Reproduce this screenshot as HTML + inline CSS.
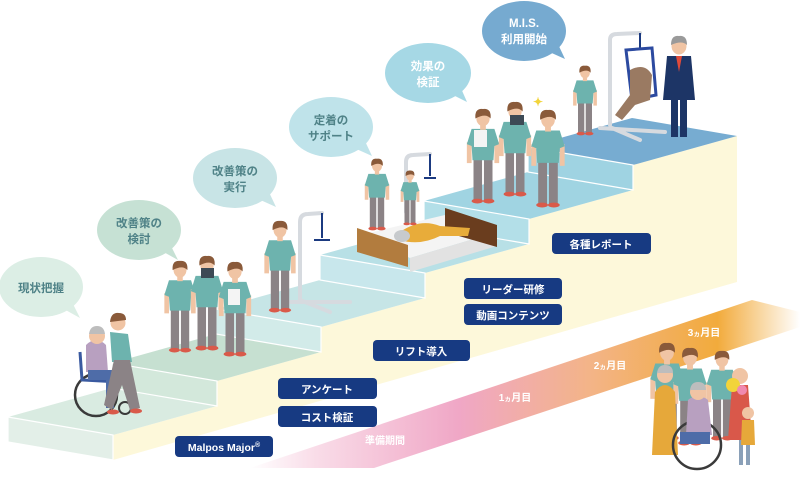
<!DOCTYPE html>
<html><head><meta charset="utf-8">
<style>
html,body{margin:0;padding:0;background:#fff;}
body{width:801px;height:478px;overflow:hidden;}
svg{display:block;}
text{font-family:"Liberation Sans","Noto Sans CJK JP",sans-serif;font-weight:bold;}
</style></head><body>
<svg width="801" height="478" viewBox="0 0 801 478" xmlns="http://www.w3.org/2000/svg">
<defs>
<linearGradient id="band" gradientUnits="userSpaceOnUse" x1="250" y1="0" x2="800" y2="0">
<stop offset="0" stop-color="#ffffff"/>
<stop offset="0.12" stop-color="#f9dce8"/>
<stop offset="0.38" stop-color="#f0a7c6"/>
<stop offset="0.62" stop-color="#f3b487"/>
<stop offset="0.85" stop-color="#f2ab3c"/>
<stop offset="1" stop-color="#ffffff"/>
</linearGradient>
<g id="p">
 <rect x="-10" y="-48" width="9" height="45" fill="#8b8386"/>
 <rect x="1" y="-48" width="9" height="45" fill="#8b8386"/>
 <ellipse cx="-6" cy="-2" rx="6" ry="2.5" fill="#d95a4a"/>
 <ellipse cx="6" cy="-2" rx="6" ry="2.5" fill="#d95a4a"/>
 <rect x="-17" y="-64" width="5" height="22" fill="#f0c4a4"/>
 <rect x="12" y="-64" width="5" height="22" fill="#f0c4a4"/>
 <path d="M-12,-78 L12,-78 L17,-62 L12,-60 L11,-45 L-11,-45 L-12,-60 L-17,-62Z" fill="#6db3ae"/>
 <rect x="-3" y="-83" width="6" height="6" fill="#f0c4a4"/>
 <ellipse cx="0" cy="-89" rx="7" ry="8" fill="#f0c4a4"/>
 <path d="M-8,-89 Q-9,-100 0,-99 Q9,-100 8,-89 Q3,-95 -8,-89Z" fill="#8a5a3a"/>
</g>
</defs>

<polygon points="250,468 752,300 800,312 800,327 374,468" fill="url(#band)"/>

<polygon points="113,460 113,435 217,406 217,381 321,352 321,327 425,298 425,273 529,244 529,219 633,190 633,165 737,136 737,282" fill="#fdf8da"/>

<polygon points="8,417 113,435 217,406 112,388" fill="#d9ebe1"/>
<polygon points="112,363 217,381 321,352 216,334" fill="#c6e0d1"/>
<polygon points="216,309 321,327 425,298 320,280" fill="#c6e5e6"/>
<polygon points="320,255 425,273 529,244 424,226" fill="#b8e0e6"/>
<polygon points="424,201 529,219 633,190 528,172" fill="#a0d4e2"/>
<polygon points="528,147 633,165 737,136 632,118" fill="#77acd1"/>
<g stroke="#ffffff" stroke-width="1.2">
<polygon points="8,417 113,435 113,460 8,442" fill="#e3efe8"/>
<polygon points="112,363 217,381 217,406 112,388" fill="#d3e8db"/>
<polygon points="216,309 321,327 321,352 216,334" fill="#d2ebe9"/>
<polygon points="320,255 425,273 425,298 320,280" fill="#c8e7ec"/>
<polygon points="424,201 529,219 529,244 424,226" fill="#b3dfe8"/>
<polygon points="528,147 633,165 633,190 528,172" fill="#9fd3e2"/>
</g>

<g>
<path d="M62,308 L80,318 L72,302Z" fill="#dceee5"/><ellipse cx="41" cy="287" rx="42" ry="30" fill="#dceee5"/>
<path d="M160,250 L178,260 L170,244Z" fill="#c6e1d4"/><ellipse cx="139" cy="230" rx="42" ry="30" fill="#c6e1d4"/>
<path d="M256,198 L276,207 L268,190Z" fill="#c8e4e6"/><ellipse cx="235" cy="178" rx="42" ry="30" fill="#c8e4e6"/>
<path d="M352,147 L372,156 L364,139Z" fill="#bfe3ea"/><ellipse cx="331" cy="127" rx="42" ry="30" fill="#bfe3ea"/>
<path d="M449,93 L467,102 L460,86Z" fill="#a6d8e5"/><ellipse cx="428" cy="73" rx="43" ry="30" fill="#a6d8e5"/>
<path d="M545,50 L565,59 L557,42Z" fill="#76aad0"/><ellipse cx="524" cy="31" rx="42" ry="30" fill="#76aad0"/>
</g>
<g font-size="11.5" fill="#4f8287" text-anchor="middle">
<text x="41" y="292">現状把握</text>
<text x="139" y="227">改善策の</text><text x="139" y="243">検討</text>
<text x="235" y="175">改善策の</text><text x="235" y="191">実行</text>
<text x="331" y="124">定着の</text><text x="331" y="140">サポート</text>
<text x="428" y="70" fill="#fff">効果の</text><text x="428" y="86" fill="#fff">検証</text>
<text x="524" y="27" fill="#fff">M.I.S.</text><text x="524" y="43" fill="#fff">利用開始</text>
</g>

<g fill="none" stroke="#d6dadf" stroke-width="4" stroke-linecap="round">
<path d="M300,300 L300,222 Q300,214 308,214 L322,213"/>
<path d="M290,302 L350,302 M300,300 L330,312"/>
<path d="M406,212 L406,162 Q406,155 413,155 L430,154"/>
<path d="M610,125 L610,40 Q610,34 617,34 L640,33"/>
<path d="M600,128 L665,132 M612,128 L640,140"/>
</g>
<g stroke="#1b3a80" stroke-width="2" fill="none">
<path d="M322,213 L322,238 M314,240 L330,240"/>
<path d="M430,154 L430,176 M424,178 L436,178"/>
<path d="M640,33 L640,50"/>
</g>
<path d="M626,50 L652,48 L656,95 L632,100Z" fill="none" stroke="#2c4aa0" stroke-width="3"/>
<path d="M630,70 Q645,62 652,75 L650,100 L635,105 L622,120 L615,115 L630,95Z" fill="#9a7a62"/>

<polygon points="360,235 445,215 497,232 410,258" fill="#f4f4f4"/>
<polygon points="410,258 497,232 497,246 410,272" fill="#e2e2e2"/>
<polygon points="357,228 408,245 408,267 357,252" fill="#b27c3e"/>
<polygon points="445,208 497,225 497,247 445,232" fill="#6a3d1e"/>
<path d="M400,232 Q420,218 440,226 L470,228 L468,236 L440,236 Q420,246 400,240Z" fill="#e8ac3a"/>
<ellipse cx="402" cy="236" rx="8" ry="6" fill="#c7cacd"/>

<use href="#p" transform="translate(180,352) scale(0.92)"/>
<use href="#p" transform="translate(207,350) scale(0.95)"/>
<use href="#p" transform="translate(235,356) scale(0.95)"/>
<rect x="228" y="289" width="12" height="16" fill="#f4f4f4"/>
<rect x="201" y="268" width="13" height="10" fill="#3d4a55"/>
<use href="#p" transform="translate(280,312) scale(0.92)"/>
<use href="#p" transform="translate(377,230) scale(0.72)"/>
<use href="#p" transform="translate(410,225) scale(0.55)"/>
<use href="#p" transform="translate(483,203) scale(0.95)"/>
<use href="#p" transform="translate(515,196) scale(0.95)"/>
<use href="#p" transform="translate(548,207) scale(0.98)"/>
<rect x="474" y="130" width="13" height="17" fill="#f4f4f4"/>
<rect x="510" y="115" width="14" height="10" fill="#3d4a55"/>
<text x="533" y="106" font-size="12" fill="#f2d43a">✦</text>
<use href="#p" transform="translate(585,135) scale(0.7)"/>

<rect x="671" y="85" width="7" height="52" fill="#1d3566"/>
<rect x="680" y="85" width="7" height="52" fill="#1d3566"/>
<path d="M667,56 L691,56 L695,100 L663,100Z" fill="#1d3566"/>
<path d="M676,56 L679,72 L682,56Z" fill="#e04a3a"/>
<ellipse cx="679" cy="46" rx="7.5" ry="8.5" fill="#f0c4a4"/>
<path d="M671,45 Q671,35 679,36 Q687,35 687,45 Q682,40 671,45Z" fill="#9a9a9a"/>

<circle cx="96" cy="395" r="21" fill="none" stroke="#3a3a3a" stroke-width="2.5"/>
<circle cx="125" cy="408" r="6" fill="none" stroke="#3a3a3a" stroke-width="2"/>
<path d="M80,352 L82,380 L120,382" fill="none" stroke="#3a5aa0" stroke-width="3"/>
<path d="M86,345 Q96,335 106,345 L108,372 L86,372Z" fill="#b8a0c0"/>
<rect x="88" y="370" width="26" height="10" fill="#4e6ca8"/>
<rect x="106" y="378" width="8" height="30" fill="#4e6ca8"/>
<circle cx="97" cy="336" r="8" fill="#f0c4a4"/>
<path d="M89,334 Q90,326 97,326 Q104,326 105,334Z" fill="#bdbdbd"/>
<path d="M110,332 L128,334 L132,362 L112,362Z" fill="#6db3ae"/>
<path d="M114,360 L130,360 L140,408 L130,410 L122,385 L112,410 L104,405Z" fill="#8b8386"/>
<circle cx="118" cy="323" r="7.5" fill="#f0c4a4"/>
<path d="M110,322 Q111,312 119,313 Q126,313 126,320Z" fill="#8a5a3a"/>
<ellipse cx="113" cy="412" rx="6" ry="2.5" fill="#d95a4a"/>
<ellipse cx="136" cy="411" rx="6" ry="2.5" fill="#d95a4a"/>

<use href="#p" transform="translate(667,440) scale(0.98)"/>
<use href="#p" transform="translate(690,445) scale(0.98)"/>
<use href="#p" transform="translate(722,440) scale(0.9)"/>
<path d="M655,392 Q665,378 675,392 L678,455 L652,455Z" fill="#e6a83a"/>
<circle cx="665" cy="375" r="8" fill="#f0c4a4"/>
<path d="M657,373 Q658,365 665,365 Q673,365 673,373Z" fill="#bdbdbd"/>
<circle cx="697" cy="445" r="24" fill="none" stroke="#3a3a3a" stroke-width="2.5"/>
<path d="M688,400 Q698,392 708,400 L712,435 L686,435Z" fill="#b8a0c0"/>
<rect x="680" y="432" width="30" height="12" fill="#4e6ca8"/>
<circle cx="698" cy="392" r="8" fill="#f0c4a4"/>
<path d="M690,390 Q691,382 698,382 Q706,382 706,390Z" fill="#bdbdbd"/>
<path d="M732,385 L748,385 L752,440 L728,440Z" fill="#d9584a"/>
<circle cx="740" cy="376" r="8" fill="#f0c4a4"/>
<circle cx="733" cy="385" r="7" fill="#f2d43a"/>
<circle cx="742" cy="390" r="5" fill="#f08ab0"/>
<path d="M741,440 L741,465 M748,440 L748,465" stroke="#8aa0b8" stroke-width="4"/>
<path d="M742,420 L754,420 L755,445 L741,445Z" fill="#e6a83a"/>
<circle cx="748" cy="413" r="6" fill="#f0c4a4"/>

<g fill="#173a82">
<rect x="175" y="436" width="98" height="21" rx="4"/>
<rect x="278" y="378" width="99" height="21" rx="4"/>
<rect x="278" y="406" width="99" height="21" rx="4"/>
<rect x="373" y="340" width="97" height="21" rx="4"/>
<rect x="464" y="278" width="98" height="21" rx="4"/>
<rect x="464" y="304" width="98" height="21" rx="4"/>
<rect x="552" y="233" width="99" height="21" rx="4"/>
</g>
<g font-size="10.5" fill="#fff" text-anchor="middle">
<text x="224" y="451">Malpos Major<tspan font-size="7" dy="-4">®</tspan></text>
<text x="327" y="393">アンケート</text>
<text x="327" y="421">コスト検証</text>
<text x="421" y="355">リフト導入</text>
<text x="513" y="293">リーダー研修</text>
<text x="513" y="319">動画コンテンツ</text>
<text x="601" y="248">各種レポート</text>
</g>
<g font-size="10" fill="#fff" text-anchor="middle">
<text x="385" y="444">準備期間</text>
<text x="515" y="401">1<tspan font-size="7">ヵ</tspan>月目</text>
<text x="610" y="369">2<tspan font-size="7">ヵ</tspan>月目</text>
<text x="704" y="336">3<tspan font-size="7">ヵ</tspan>月目</text>
</g>
</svg>
</body></html>
